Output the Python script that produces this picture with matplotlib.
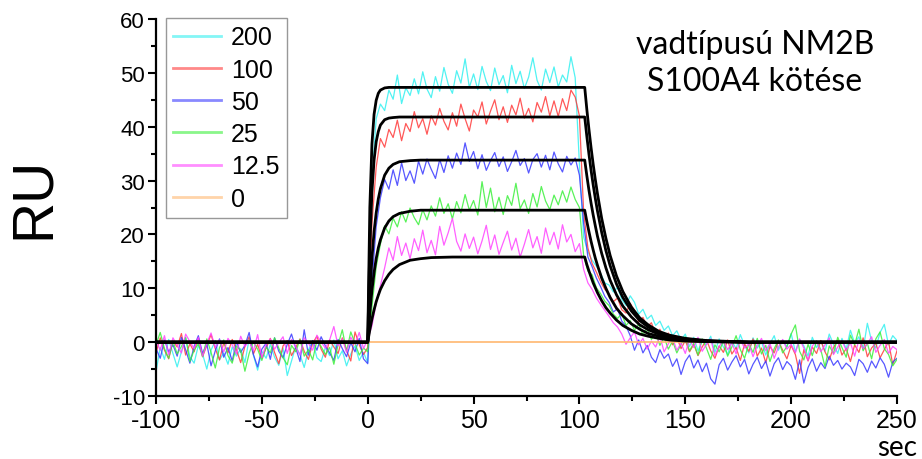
import numpy as np
import matplotlib
matplotlib.use("Agg")
import matplotlib.pyplot as plt
from matplotlib.ticker import MultipleLocator

plt.rcParams['font.family'] = ['Liberation Sans', 'DejaVu Sans']
plt.rcParams['axes.unicode_minus'] = False

# ---------------- data ----------------
time_sec = np.arange(-100, 252, 2)          # sampling times of the sensorgrams
concentrations = ["200", "100", "50", "25", "12.5", "0"]

resp_200 = [
    -5.5, -1.0, -3.2, 0.5, -2.1, -4.6, -1.8, 0.8, -2.7, -3.9,
    -0.6, -2.2, -5.0, -1.5, 0.3, -3.3, -2.0, -4.1, -0.9, -2.6,
    -1.2, -3.8, 0.6, -2.4, -5.2, -1.7, -3.0, -0.4, -2.8, -4.3,
    -1.1, -6.2, -3.5, -0.8, -2.3, -4.7, -1.4, 0.2, -2.9, -3.6,
    -1.0, -2.5, 0.4, -3.1, -1.6, -4.4, -2.2, -0.7, -3.4, -1.9,
    -3.8,
    30.1, 41.5, 44.2, 43.0, 46.8, 45.1, 49.6, 44.3, 47.2, 45.8,
    48.9, 46.1, 50.2, 47.0, 45.4, 49.3, 46.6, 51.0, 47.9, 46.2,
    50.4, 48.1, 52.6, 47.3, 49.8, 46.9, 51.2, 48.4, 46.7, 50.9,
    47.8, 49.5, 46.3, 51.4, 48.0, 50.3, 47.1, 49.2, 52.8, 48.6,
    46.8, 50.7, 48.2, 51.1, 47.4, 49.6, 48.3, 53.0, 49.1, 33.0,
    19.5, 16.8, 15.2, 14.1, 12.8, 11.0, 10.6, 9.3, 10.2, 7.9,
    6.8, 8.6, 7.4, 5.2, 6.1, 4.3, 5.0, 3.1, 3.9, 2.2,
    3.0, 1.2, 2.1, 0.4, 1.5, -0.8, 0.9, -1.6, 0.3, -0.5,
    1.1, -1.9, 0.6, -0.9, -2.3, 0.2, -1.2, 1.4, -0.6, -2.0,
    0.8, -1.1, 0.1, -2.4, -0.3, 1.2, -1.5, 0.4, -0.9, 1.6,
    -1.8, 0.5, -0.7, -2.6, 0.9, -1.0, 0.3, -1.7, 1.5, -0.4,
    -2.1, 0.7, -1.3, 2.2, -0.2, 1.0, -1.4, 3.5, 0.2, -1.1,
    1.8, 3.3, -0.5, 1.2, 0.3,
]

resp_100 = [
    -2.0, 0.8, -1.5, -3.1, 0.2, -0.9, 1.6, -2.4, -0.3, -1.8,
    0.9, -2.7, -0.6, 1.4, -1.2, -3.3, -0.1, -2.0, 0.5, -1.4,
    -3.8, -0.8, 1.0, -2.2, -0.4, -3.0, -1.1, 0.7, -1.9, -4.0,
    -0.7, 0.3, -2.5, -1.0, 0.6, -1.7, -3.2, -0.2, 1.1, -1.3,
    -2.8, 0.4, -0.9, -2.1, 0.8, -1.5, -3.5, 1.9, -0.5, -2.3,
    -1.0,
    22.0, 32.5, 37.8, 36.2, 39.5, 38.0, 41.2, 37.4, 40.6, 39.1,
    42.8, 39.8, 41.5, 38.6, 42.0, 40.3, 43.4, 41.0, 39.4, 42.6,
    40.1, 44.2, 41.5, 39.2, 43.1, 41.8, 44.6, 40.5, 42.9, 45.0,
    41.3, 43.7, 40.8, 44.0, 42.2, 45.3, 41.6, 43.4, 40.9, 44.5,
    42.7, 45.6, 42.0, 44.8, 41.9, 45.2, 43.0, 46.8, 45.5, 42.0,
    24.0, 17.5, 14.6, 13.0, 11.2, 9.8, 8.9, 7.5, 8.2, 6.0,
    5.4, 7.2, 5.9, 3.8, 4.6, 2.9, 3.6, 1.5, 2.4, 0.6,
    1.7, -0.5, 0.9, -1.2, 0.3, -1.8, -0.4, -2.5, -0.9, 0.5,
    -1.6, -3.0, -0.7, -1.9, 0.4, -2.2, -1.0, -3.4, -0.3, -1.7,
    0.6, -2.6, -1.1, -3.8, -0.8, -2.0, 0.2, -1.5, -3.1, -0.6,
    -2.3, -5.8, -1.4, -3.5, -0.9, -2.1, 0.3, -1.8, -3.3, -1.0,
    0.4, -2.4, -1.2, -3.6, -0.5, -1.9, 0.8, -2.7, -1.1, -0.2,
    -2.9, -1.4, 0.1, -4.2, -1.6,
]

resp_50 = [
    -1.2, -3.0, 0.4, -1.8, -0.5, -2.6, 0.9, -1.4, -3.9, -0.8,
    1.2, -2.1, -0.3, -4.4, -1.6, 0.6, -2.8, -1.0, -3.5, 0.1,
    -1.9, -0.6, 1.8, -2.3, -4.6, -1.3, -0.2, -3.2, 0.8, -1.7,
    -2.9, -0.4, 1.5, -1.1, -3.6, 2.3, -2.4, 0.3, -1.5, 1.0,
    -0.7, -2.0, -3.4, 0.5, -1.2, -2.7, -0.1, -1.8, 0.7, -3.1,
    -4.0,
    11.0, 21.5, 26.8, 30.2, 28.4, 32.0, 29.1, 33.3, 30.0, 31.8,
    29.5, 33.6, 31.2, 34.0, 32.1, 30.4, 33.9, 31.5, 34.6, 32.3,
    35.1, 33.0, 37.0, 33.6, 35.4, 32.2, 34.8, 31.9, 33.7, 35.2,
    32.6, 34.4, 31.7, 33.5, 35.6, 32.8, 34.1, 31.4, 33.9, 35.0,
    32.5, 34.7, 32.0, 35.3, 33.1, 31.6, 34.5, 32.9, 34.2, 31.0,
    22.0, 15.8, 14.0, 11.9, 10.3, 8.5, 7.4, 5.6, 6.2, 3.9,
    3.0, 1.2, -1.5, 0.4, -2.0, -0.6, -2.8, -3.8, -1.4, -3.0,
    -2.2, -4.5, -3.1, -6.0, -3.6, -2.4, -4.8, -3.3, -5.5, -3.9,
    -6.8, -7.8, -4.2, -3.0, -5.2, -3.7, -2.5, -4.6, -3.2, -5.9,
    -4.1, -2.8, -4.9, -3.5, -6.3, -4.0, -2.9, -5.1, -3.6, -4.4,
    -6.9, -3.3, -7.6, -4.7, -3.1, -5.4, -3.8, -4.9, -2.6, -4.3,
    -3.4, -5.0, -3.9, -4.6, -6.2, -3.2, -4.0, -5.6, -3.5, -4.8,
    -2.9, -4.1, -6.5, -3.7, -3.0,
]

resp_25 = [
    -0.5, 1.8, -1.2, -3.0, 0.2, -2.2, -0.8, 0.9, -3.6, -1.5,
    -0.3, -2.7, 0.6, -1.9, -4.8, -1.0, 0.4, -2.5, -3.9, -0.7,
    -1.6, -5.4, -2.1, 0.1, -1.3, -3.4, -0.9, -2.0, 0.8, -1.1,
    -2.9, -4.2, -0.6, -1.8, 0.5, -2.6, -1.4, -3.3, 0.3, -0.8,
    -2.3, -1.0, -4.1, -0.5, 2.3, -1.7, 1.9, -0.2, -2.4, -1.1,
    -1.8,
    6.5, 14.0, 18.2, 21.6, 20.1, 23.0, 21.4, 24.2, 22.3, 24.9,
    23.1, 21.8, 24.6, 22.7, 25.3, 23.4, 26.8, 23.9, 25.7, 22.9,
    26.1, 24.0, 27.4, 24.5, 26.3, 23.6, 29.8, 25.0, 28.6, 24.2,
    26.9, 23.7, 27.2, 25.4, 29.5, 24.8, 26.4, 23.9, 27.6, 25.1,
    28.9, 26.2, 24.6, 27.3, 25.5, 28.1, 26.0, 28.8, 26.5, 25.0,
    16.0, 13.2, 12.5, 10.1, 9.0, 7.6, 6.8, 5.2, 4.4, 5.3,
    3.1, 4.0, 2.2, 3.4, 1.3, 2.6, 0.5, 1.8, -0.6, 0.9,
    -1.3, 0.2, -2.0, -0.4, 1.0, -1.6, -0.2, -2.4, 0.6, -1.1,
    -3.2, -0.5, -1.8, 0.3, -2.6, -0.9, 1.2, -1.4, -3.0, -0.3,
    -1.9, 0.7, -2.2, -0.6, -3.6, -1.2, 0.4, -2.0, -0.8, 1.5,
    3.2, -1.7, -3.3, -0.4, -2.5, 0.2, -1.4, -4.6, -0.7, -2.1,
    0.9, -1.0, -2.8, 1.3, -0.5, 2.4, -1.6, -0.2, -3.1, 0.6,
    1.9, -1.2, -2.3, -4.4, -3.2,
]

resp_12_5 = [
    0.3, -1.5, 1.2, -2.4, 0.8, -0.6, -2.0, 1.5, 0.1, -1.2,
    0.9, -2.6, -0.3, 1.7, -1.0, 0.4, -1.8, 0.7, -0.5, -2.2,
    1.1, -0.8, 0.2, -1.6, 1.4, -2.9, -0.4, 0.6, -1.3, -0.1,
    1.0, -2.1, 0.5, -0.9, -2.4, 0.8, -0.2, -1.5, 1.3, 0.0,
    -1.1, 0.4, 2.9, -0.7, 0.6, -1.9, 0.9, -0.4, 1.8, -1.2,
    0.5,
    3.0, 7.2, 10.5, 13.8, 17.5, 15.2, 19.6, 16.1, 18.4, 15.5,
    19.2, 17.0, 20.8, 16.6, 18.9, 16.2, 21.5, 18.0, 20.3, 23.0,
    18.7, 16.9, 20.1, 17.4, 19.5, 16.4, 18.8, 21.7, 17.2, 19.9,
    16.3, 18.5, 20.6, 17.1, 19.3, 15.8, 18.2, 20.9, 17.5, 19.6,
    16.5, 21.2, 18.1, 20.4, 17.3, 21.8, 18.6, 20.0, 16.8, 18.3,
    13.5, 11.0, 9.8, 8.2, 7.0, 5.9, 4.8, 3.6, 2.8, 1.5,
    -0.4, 0.8, 1.9, -0.5, 0.7, -1.3, 0.2, -0.9, 1.1, -1.8,
    -0.3, 0.8, -1.5, -0.2, -2.1, 0.5, -1.0, 0.9, -1.7, -0.4,
    0.6, -2.5, -0.8, 0.3, -1.4, -0.1, -2.2, 0.4, -1.1, -0.3,
    -2.7, -0.6, 0.7, -1.6, -0.2, -3.0, -0.9, 0.5, -1.3, -0.4,
    -2.0, 0.6, -1.1, -3.4, -0.7, 0.2, -1.8, -0.5, 0.8, -2.3,
    -0.9, 0.3, -1.5, -0.1, -2.6, 0.4, -1.2, -0.3, 1.0, -1.9,
    -0.6, 0.5, -2.1, -0.8, -1.4,
]

zero_t = [-100, 250]
zero_resp = [0, 0]

# fitted curves (black)
fit_t = [-100, 0, 1, 2, 3, 4, 5, 6, 8, 10, 12, 15, 20, 25, 30, 40,
         102.5, 103.5, 104.5, 105.5, 106.5, 107.5, 108.5, 110.5, 112.5, 114.5,
         117.5, 120.5, 124.5, 128.5, 132.5, 137.5, 142.5, 150, 160, 180, 250]
fit_200 = [0, 0, 25.0, 36.8, 42.3, 44.9, 46.2, 46.8, 47.2, 47.3, 47.3, 47.3, 47.3, 47.3, 47.3, 47.3,
           47.3, 43.2, 39.5, 36.1, 33.0, 30.2, 27.6, 23.0, 19.3, 16.1,
           12.3, 9.4, 6.5, 4.5, 3.2, 2.0, 1.3, 0.7, 0.3, 0.0, 0.0]
fit_100 = [0, 0, 17.7, 27.9, 33.8, 37.2, 39.1, 40.3, 41.3, 41.6, 41.7, 41.8, 41.8, 41.8, 41.8, 41.8,
           41.8, 38.2, 34.9, 31.9, 29.2, 26.7, 24.4, 20.4, 17.0, 14.2,
           10.8, 8.3, 5.8, 4.0, 2.8, 1.8, 1.1, 0.6, 0.2, 0.0, 0.0]
fit_50 = [0, 0, 9.0, 15.6, 20.5, 24.0, 26.6, 28.5, 31.0, 32.3, 33.0, 33.5, 33.7, 33.8, 33.8, 33.8,
          33.8, 30.9, 28.2, 25.8, 23.6, 21.6, 19.7, 16.5, 13.8, 11.5,
          8.8, 6.7, 4.7, 3.2, 2.3, 1.5, 0.9, 0.5, 0.2, 0.0, 0.0]
fit_25 = [0, 0, 5.4, 9.6, 12.9, 15.5, 17.5, 19.0, 21.2, 22.5, 23.3, 23.9, 24.3, 24.5, 24.5, 24.5,
          24.5, 22.4, 20.5, 18.7, 17.1, 15.6, 14.3, 11.9, 10.0, 8.3,
          6.3, 4.9, 3.4, 2.4, 1.6, 1.1, 0.7, 0.3, 0.1, 0.0, 0.0]
fit_12_5 = [0, 0, 2.3, 4.3, 6.0, 7.5, 8.7, 9.8, 11.4, 12.6, 13.5, 14.4, 15.2, 15.5, 15.7, 15.8,
            15.8, 14.4, 13.2, 12.1, 11.0, 10.1, 9.2, 7.7, 6.4, 5.4,
            4.1, 3.1, 2.2, 1.5, 1.1, 0.7, 0.4, 0.2, 0.1, 0.0, 0.0]

x_ticks = [-100, -50, 0, 50, 100, 150, 200, 250]
y_ticks = [-10, 0, 10, 20, 30, 40, 50, 60]

# ---------------- plot ----------------
series = [resp_200, resp_100, resp_50, resp_25, resp_12_5]
colors = ["#33f0f0", "#ff3b3b", "#3a3aff", "#3cf03c", "#ff44ff"]
fits = [fit_200, fit_100, fit_50, fit_25, fit_12_5]

fig = plt.figure(figsize=(9.22, 4.60), dpi=100)
ax = fig.add_axes([156 / 922, 1 - 397 / 460, (897 - 156) / 922, (397 - 20) / 460])

handles = []
for vals, col, lab in zip(series, colors, concentrations[:5]):
    h, = ax.plot(time_sec, vals, color=col, lw=0.9, alpha=0.85, label=lab, zorder=2)
    handles.append(h)
h0, = ax.plot(zero_t, zero_resp, color="#ffb870", lw=1.2, label=concentrations[5], zorder=2)
handles.append(h0)

for fv in fits:
    ax.plot(fit_t, fv, color="black", lw=2.0, zorder=3, solid_joinstyle='round')

ax.set_xlim(-100, 250)
ax.set_ylim(-10, 60)
ax.set_xticks(x_ticks)
ax.set_yticks(y_ticks)
ax.xaxis.set_minor_locator(MultipleLocator(25))
ax.yaxis.set_minor_locator(MultipleLocator(5))
for s in ["top", "right"]:
    ax.spines[s].set_visible(False)
for s in ["left", "bottom"]:
    ax.spines[s].set_linewidth(1.6)
ax.tick_params(axis="both", which="major", direction="out", length=6, width=1.5)
ax.tick_params(axis="both", which="minor", direction="out", length=3.5, width=1.5)
ax.tick_params(axis="x", which="major", labelsize=18, pad=3)
ax.tick_params(axis="y", which="major", labelsize=16, pad=2)

leg = ax.legend(handles=handles, loc="upper left", bbox_to_anchor=(0.013, 1.003),
                borderaxespad=0, fontsize=18, frameon=True, fancybox=False,
                edgecolor="#7f7f7f", handlelength=1.9, handletextpad=0.4,
                labelspacing=0.33, borderpad=0.3)
leg.get_frame().set_linewidth(1.0)
for lh in leg.get_lines():
    lh.set_linewidth(2.0)
    lh.set_alpha(0.6)

fig.text(34 / 922, 1 - 198 / 460, "RU", rotation=90, fontsize=41,
         ha="center", va="center")
fig.text(755 / 922, 1 - 45 / 460, "vadtípusú NM2B", fontsize=23,
         family=["Lato", "DejaVu Sans"], ha="center", va="center")
fig.text(755 / 922, 1 - 82 / 460, "S100A4 kötése", fontsize=23,
         family=["Lato", "DejaVu Sans"], ha="center", va="center")
fig.text(897 / 922, 1 - 456 / 460, "sec", fontsize=20,
         family=["Lato", "DejaVu Sans"], ha="center", va="baseline")

fig.savefig("out.png", dpi=100)
